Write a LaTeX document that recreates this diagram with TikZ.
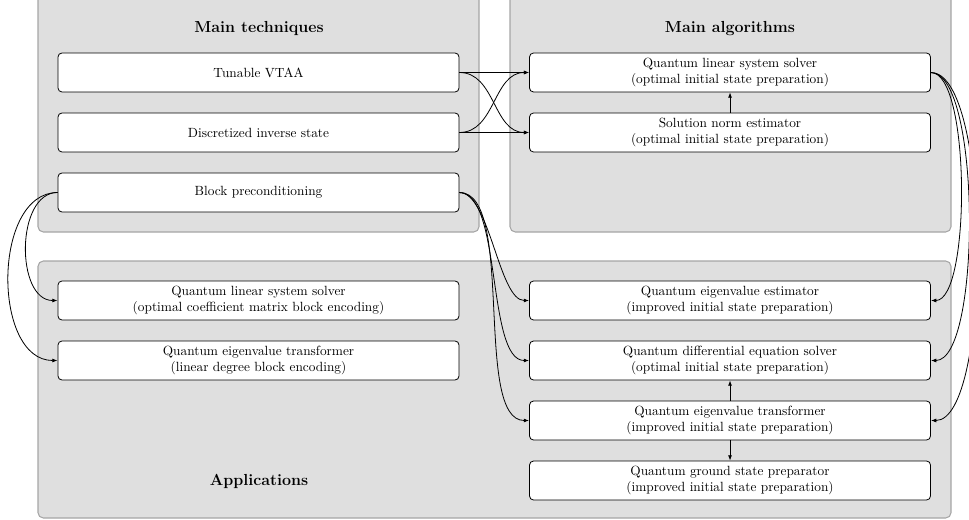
\documentclass[tikz,border=0pt]{standalone}
\usetikzlibrary{arrows.meta}
\definecolor{panelfill}{HTML}{DFDFDF}
\definecolor{panelborder}{HTML}{A6A6A6}
\begin{document}
\begin{tikzpicture}[x=0.75pt,y=-0.75pt,
  panel/.style={draw=panelborder, fill=panelfill, rounded corners=4pt, line width=0.8pt},
  box/.style={draw=black, fill=white, rounded corners=3pt, line width=0.6pt,
    minimum width=300.75pt, minimum height=29.25pt, align=center, inner sep=0pt,
    font=\normalsize},
  title/.style={font=\large\bfseries},
  conn/.style={-{Latex[length=4pt,width=3pt]}, line width=0.6pt}]
\useasboundingbox (0,0) rectangle (969,520);
% panels
\draw[panel] (38,-6) rectangle (479,232);
\draw[panel] (510,-6) rectangle (951,232);
\draw[panel] (38,261) rectangle (951,518);
% titles
\node[title] (t1) at (259,29) {Main techniques};
\node[title] (t2) at (730,29) {Main algorithms};
\node[title] (t3) at (259,481) {Applications};
% boxes
\node[box] (vtaa) at (258.5,72.5) {Tunable VTAA};
\node[box] (dis) at (258.5,132.5) {Discretized inverse state};
\node[box] (bp) at (258.5,192.5) {Block preconditioning};
\node[box] (qlss) at (730,72.5) {Quantum linear system solver\\(optimal initial state preparation)};
\node[box] (sne) at (730,132.5) {Solution norm estimator\\(optimal initial state preparation)};
\node[box] (aqlss) at (258.5,300.5) {Quantum linear system solver\\(optimal coefficient matrix block encoding)};
\node[box] (aqetl) at (258.5,360.5) {Quantum eigenvalue transformer\\(linear degree block encoding)};
\node[box] (qee) at (730,300.5) {Quantum eigenvalue estimator\\(improved initial state preparation)};
\node[box] (qdes) at (730,360.5) {Quantum differential equation solver\\(optimal initial state preparation)};
\node[box] (qeti) at (730,420.5) {Quantum eigenvalue transformer\\(improved initial state preparation)};
\node[box] (qgsp) at (730,480.5) {Quantum ground state preparator\\(improved initial state preparation)};
% connectors
\draw[conn] (vtaa.east) -- (qlss.west);
\draw[conn] (dis.east) -- (sne.west);
\draw[conn] (vtaa.east) to[out=0,in=180] (sne.west);
\draw[conn] (dis.east) to[out=0,in=180] (qlss.west);
\draw[conn] (sne.north) -- (qlss.south);
\draw[conn] (bp.west) to[out=180,in=180] (aqlss.west);
\draw[conn] (bp.west) to[out=180,in=180] (aqetl.west);
\draw[conn] (bp.east) to[out=0,in=180,looseness=0.6] (qee.west);
\draw[conn] (bp.east) to[out=0,in=180,looseness=0.6] (qdes.west);
\draw[conn] (bp.east) to[out=0,in=180,looseness=0.6] (qeti.west);
\draw[conn] (qlss.east) to[out=0,in=0,looseness=0.45] (qee.east);
\draw[conn] (qlss.east) to[out=0,in=0,looseness=0.45] (qdes.east);
\draw[conn] (qlss.east) to[out=0,in=0,looseness=0.45] (qeti.east);
\draw[conn] (qeti.north) -- (qdes.south);
\draw[conn] (qeti.south) -- (qgsp.north);
\end{tikzpicture}
\end{document}
